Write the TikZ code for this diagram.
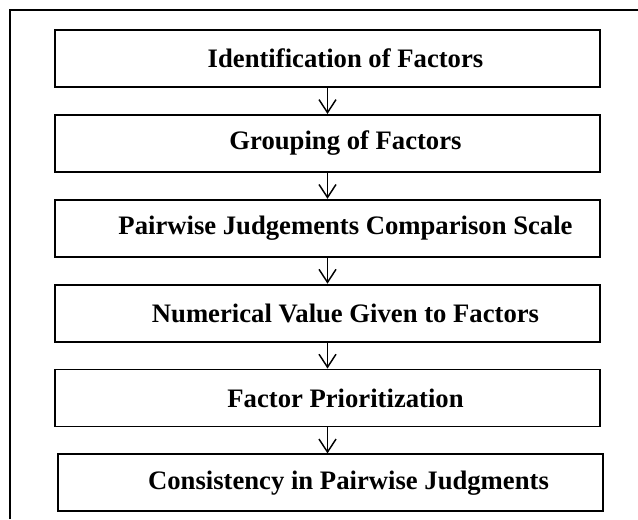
\documentclass[tikz,border=0pt]{standalone}
\usepackage{fontspec}
\setmainfont{Liberation Serif}
\usetikzlibrary{positioning,arrows.meta}

\begin{document}
\begin{tikzpicture}[x=0.75pt, y=-0.75pt, node distance=19.5pt,
	stepbox/.style={draw, line width=1.4pt, minimum width=408.75pt, minimum height=42.75pt,
		inner sep=0pt, font=\bfseries\fontsize{20}{24}\selectfont},
	flow/.style={-{Straight Barb[length=9.75pt,width=12.75pt]}, line width=1.1pt}]
	\useasboundingbox (0,0) rectangle (638,519);
	% outer frame, cut at the right and bottom
	\draw[line width=1.1pt] (10,519) |- (638,10);
	\node[stepbox] (ident) at (327.5,58.5) {\hspace*{27pt}Identification of Factors};
	\node[stepbox, below=of ident] (group) {\hspace*{27pt}Grouping of Factors};
	\node[stepbox, below=of group] (pairs) {\hspace*{27pt}Pairwise Judgements Comparison Scale};
	\node[stepbox, below=of pairs] (value) {\hspace*{27pt}Numerical Value Given to Factors};
	\node[stepbox, below=of value] (prior) {\hspace*{27pt}Factor Prioritization};
	\node[stepbox, below=of prior, xshift=2.25pt] (consist) {\hspace*{27pt}Consistency in Pairwise Judgments};
	\draw[flow] (ident) -- (group);
	\draw[flow] (group) -- (pairs);
	\draw[flow] (pairs) -- (value);
	\draw[flow] (value) -- (prior);
	\draw[flow] (prior) -- (consist.north -| prior.south);
\end{tikzpicture}
\end{document}
